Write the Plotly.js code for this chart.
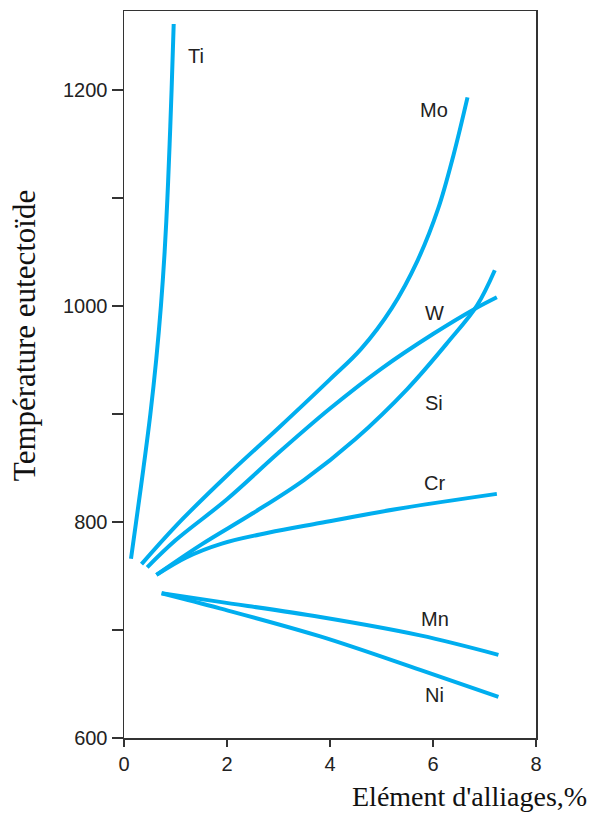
<!DOCTYPE html>
<html>
<head>
<meta charset="utf-8">
<script src="https://cdn.plot.ly/plotly-3.0.1.min.js"></script>
<style>html,body{margin:0;padding:0;background:#fff;}#chart{width:594px;height:814px;}</style>
</head>
<body>
<div id="chart"></div>
<script>
// Data (x = alloying element %, y = eutectoid temperature)
const tiX = [0.136, 0.235, 0.378, 0.512, 0.625, 0.717, 0.789, 0.843, 0.886, 0.924, 0.965];
const tiY = [766, 800, 850, 900, 950, 1000, 1050, 1100, 1150, 1200, 1261];
const moX = [0.34, 1.0, 2.0, 3.0, 4.0, 4.6, 5.2, 5.7, 6.1, 6.4, 6.67];
const moY = [761, 796, 843, 887, 932, 960, 998, 1042, 1090, 1140, 1193];
const wX = [0.45, 1.0, 2.0, 3.0, 4.0, 5.0, 6.0, 6.8, 7.24];
const wY = [758, 783, 821, 864, 905, 942, 974, 997, 1008];
const siX = [0.63, 1.5, 2.5, 3.5, 4.5, 5.5, 6.3, 6.85, 7.2];
const siY = [751, 779, 808, 839, 877, 923, 967, 1000, 1033];
const crX = [0.63, 1.2, 1.9, 2.8, 3.8, 5.3, 7.24];
const crY = [751, 767, 780, 790, 799, 812, 826];
const mnX = [0.73, 1.86, 3.81, 5.75, 7.27];
const mnY = [734, 726, 712, 695, 677];
const niX = [0.73, 1.86, 3.81, 5.75, 7.27];
const niY = [734, 720, 694, 663, 638];

const labelNames = ['Ti', 'Mo', 'W', 'Si', 'Cr', 'Mn', 'Ni'];
const labelX = [1.40, 6.02, 6.03, 6.02, 6.03, 6.03, 6.02];
const labelY = [1231, 1181, 993, 910, 836, 710, 640];

const yTickVals = [600, 700, 800, 900, 1000, 1100, 1200];
const yTickText = ['600', '', '800', '', '1000', '', '1200'];
const xTickVals = [0, 2, 4, 6, 8];
const xTickText = ['0', '2', '4', '6', '8'];

const xTitle = "Elément d'alliages,%";
const yTitle = 'Température eutectoïde';

const lineColor = '#00AEEF';
const series = [[tiX, tiY], [moX, moY], [wX, wY], [siX, siY], [crX, crY], [mnX, mnY], [niX, niY]];
const traces = series.map((s, i) => ({
  x: s[0], y: s[1], type: 'scatter', mode: 'lines', name: labelNames[i],
  line: {color: lineColor, width: 4, shape: 'spline', smoothing: 1},
  hoverinfo: 'skip'
}));

const annotations = labelNames.map((t, i) => ({
  x: labelX[i], y: labelY[i], xref: 'x', yref: 'y', text: t, showarrow: false,
  xanchor: 'center', yanchor: 'middle',
  font: {family: 'Liberation Sans, Arial, sans-serif', size: 20, color: '#222'}
}));
annotations.push({
  x: 0.8398, y: -0.081, xref: 'paper', yref: 'paper', text: xTitle, showarrow: false,
  xanchor: 'center', yanchor: 'middle',
  font: {family: 'Liberation Serif, Times New Roman, serif', size: 28, color: '#111'}
});
annotations.push({
  x: -0.243, y: 0.554, xref: 'paper', yref: 'paper', text: yTitle, showarrow: false,
  textangle: -90, xanchor: 'center', yanchor: 'middle',
  font: {family: 'Liberation Serif, Times New Roman, serif', size: 31, color: '#111'}
});

const layout = {
  width: 594, height: 814,
  margin: {l: 124, r: 58, t: 11, b: 76},
  paper_bgcolor: '#fff', plot_bgcolor: '#fff',
  showlegend: false,
  xaxis: {
    range: [0, 8], tickmode: 'array', tickvals: xTickVals, ticktext: xTickText,
    ticks: 'outside', ticklen: 7, tickwidth: 1.5, tickcolor: '#333',
    showline: true, linecolor: '#333', linewidth: 1.5, mirror: true,
    showgrid: false, zeroline: false,
    tickfont: {family: 'Liberation Sans, Arial, sans-serif', size: 20, color: '#222'}
  },
  yaxis: {
    range: [600, 1273], tickmode: 'array', tickvals: yTickVals, ticktext: yTickText,
    ticks: 'outside', ticklen: 11, tickwidth: 1.5, tickcolor: '#333',
    showline: true, linecolor: '#333', linewidth: 1.5, mirror: true,
    showgrid: false, zeroline: false,
    tickfont: {family: 'Liberation Sans, Arial, sans-serif', size: 20, color: '#222'}
  },
  annotations: annotations
};

Plotly.newPlot('chart', traces, layout, {displayModeBar: false, staticPlot: true});
</script>
</body>
</html>
